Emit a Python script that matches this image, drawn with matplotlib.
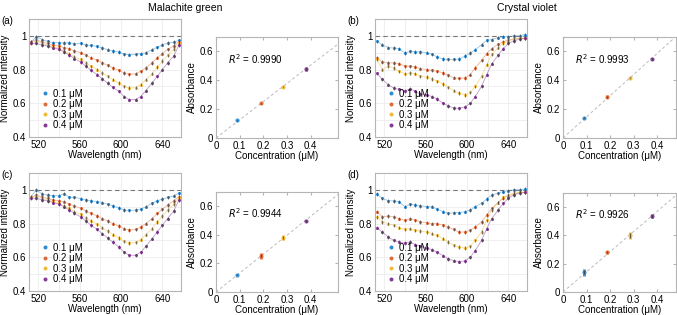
import numpy as np
import matplotlib
matplotlib.use("Agg")
import matplotlib.pyplot as plt
from matplotlib.ticker import MultipleLocator

plt.rcParams["font.family"] = ["Liberation Sans", "DejaVu Sans"]
plt.rcParams["font.size"] = 7

colors = ["#2f8bd0", "#de6b3a", "#efba3a", "#853a95"]
labels = ["0.1 μM", "0.2 μM", "0.3 μM", "0.4 μM"]

wl = [513, 518, 524, 529, 534, 540, 545, 550, 555, 561, 566, 571, 577, 582,
      587, 592, 598, 603, 608, 614, 619, 624, 630, 635, 640, 645, 651, 656]

# malachite green, top row (a)
mg_a = [
    [0.963, 0.996, 0.977, 0.967, 0.96, 0.96, 0.957, 0.96, 0.953, 0.955, 0.945, 0.943, 0.937, 0.928,
     0.918, 0.91, 0.904, 0.89, 0.888, 0.89, 0.894, 0.9, 0.918, 0.932, 0.947, 0.957, 0.963, 0.973],
    [0.965, 0.978, 0.962, 0.955, 0.945, 0.94, 0.93, 0.925, 0.91, 0.9, 0.885, 0.87, 0.855, 0.84,
     0.825, 0.81, 0.795, 0.78, 0.772, 0.775, 0.79, 0.81, 0.84, 0.87, 0.895, 0.92, 0.94, 0.965],
    [0.96, 0.97, 0.955, 0.945, 0.935, 0.925, 0.91, 0.895, 0.875, 0.86, 0.84, 0.82, 0.8, 0.78,
     0.76, 0.74, 0.72, 0.70, 0.69, 0.693, 0.71, 0.74, 0.775, 0.815, 0.85, 0.885, 0.92, 0.955],
    [0.955, 0.955, 0.945, 0.94, 0.93, 0.92, 0.905, 0.885, 0.865, 0.845, 0.82, 0.795, 0.77, 0.745,
     0.72, 0.695, 0.67, 0.64, 0.622, 0.622, 0.64, 0.675, 0.72, 0.76, 0.8, 0.84, 0.88, 0.945],
]
# malachite green, bottom row (c)
mg_c = [
    [0.96, 1.0, 0.975, 0.97, 0.965, 0.965, 0.978, 0.955, 0.955, 0.948, 0.94, 0.935, 0.93, 0.925,
     0.915, 0.905, 0.893, 0.88, 0.878, 0.88, 0.885, 0.9, 0.92, 0.935, 0.945, 0.955, 0.965, 0.98],
    [0.955, 0.97, 0.955, 0.95, 0.94, 0.935, 0.93, 0.915, 0.905, 0.89, 0.875, 0.86, 0.845, 0.83,
     0.815, 0.8, 0.785, 0.77, 0.762, 0.765, 0.78, 0.8, 0.83, 0.86, 0.885, 0.91, 0.935, 0.96],
    [0.955, 0.965, 0.95, 0.94, 0.93, 0.92, 0.905, 0.89, 0.87, 0.855, 0.835, 0.815, 0.795, 0.775,
     0.755, 0.735, 0.715, 0.695, 0.685, 0.688, 0.705, 0.735, 0.77, 0.81, 0.845, 0.88, 0.915, 0.95],
    [0.95, 0.95, 0.94, 0.935, 0.925, 0.915, 0.9, 0.88, 0.86, 0.84, 0.815, 0.79, 0.765, 0.74,
     0.715, 0.69, 0.66, 0.63, 0.612, 0.612, 0.63, 0.665, 0.71, 0.75, 0.79, 0.83, 0.875, 0.94],
]
# crystal violet, top row (b)
cv_b = [
    [0.967, 0.947, 0.93, 0.928, 0.925, 0.898, 0.908, 0.905, 0.905, 0.9, 0.89, 0.875, 0.862, 0.86,
     0.86, 0.862, 0.88, 0.898, 0.918, 0.947, 0.973, 0.978, 0.99, 0.995, 0.995, 1.0, 1.0, 1.008],
    [0.87, 0.845, 0.84, 0.84, 0.835, 0.82, 0.82, 0.815, 0.805, 0.8, 0.795, 0.79, 0.78, 0.765,
     0.752, 0.748, 0.75, 0.77, 0.81, 0.855, 0.895, 0.925, 0.95, 0.965, 0.975, 0.98, 0.985, 0.985],
    [0.86, 0.80, 0.82, 0.81, 0.79, 0.775, 0.78, 0.775, 0.76, 0.755, 0.745, 0.73, 0.715, 0.695,
     0.675, 0.66, 0.65, 0.665, 0.7, 0.76, 0.83, 0.89, 0.93, 0.955, 0.97, 0.98, 0.985, 0.985],
    [0.777, 0.742, 0.71, 0.69, 0.683, 0.673, 0.686, 0.67, 0.655, 0.65, 0.64, 0.625, 0.6, 0.585,
     0.572, 0.57, 0.578, 0.6, 0.64, 0.7, 0.77, 0.835, 0.885, 0.925, 0.955, 0.97, 0.98, 0.985],
]
# crystal violet, bottom row (d)
cv_d = [
    [0.975, 0.95, 0.935, 0.935, 0.93, 0.9, 0.915, 0.91, 0.905, 0.9, 0.9, 0.885, 0.87, 0.86,
     0.865, 0.865, 0.87, 0.88, 0.9, 0.92, 0.945, 0.97, 0.98, 0.99, 0.995, 1.0, 1.0, 1.005],
    [0.87, 0.84, 0.845, 0.84, 0.83, 0.82, 0.83, 0.82, 0.81, 0.805, 0.8, 0.8, 0.79, 0.78,
     0.765, 0.75, 0.75, 0.76, 0.78, 0.81, 0.85, 0.89, 0.925, 0.95, 0.965, 0.975, 0.985, 0.985],
    [0.84, 0.81, 0.8, 0.79, 0.775, 0.765, 0.77, 0.76, 0.755, 0.75, 0.74, 0.73, 0.71, 0.69,
     0.67, 0.66, 0.655, 0.665, 0.7, 0.75, 0.82, 0.88, 0.925, 0.955, 0.97, 0.98, 0.985, 0.985],
    [0.775, 0.75, 0.72, 0.7, 0.69, 0.685, 0.69, 0.675, 0.665, 0.655, 0.645, 0.63, 0.61, 0.59,
     0.58, 0.575, 0.578, 0.6, 0.64, 0.7, 0.77, 0.83, 0.88, 0.92, 0.95, 0.97, 0.98, 0.985],
]
spec_err = 0.01

conc = [0.09, 0.188, 0.283, 0.38]
abs_a = [0.122, 0.241, 0.356, 0.478]
abs_b = [0.14, 0.285, 0.418, 0.548]
abs_c = [0.122, 0.254, 0.381, 0.497]
abs_d = [0.14, 0.28, 0.40, 0.535]
err_a = [0.006, 0.008, 0.006, 0.012]
err_b = [0.006, 0.01, 0.006, 0.008]
err_c = [0.006, 0.02, 0.015, 0.008]
err_d = [0.025, 0.012, 0.025, 0.015]
r2 = ["0.9990", "0.9993", "0.9944", "0.9926"]

W, H = 677, 315
fig = plt.figure(figsize=(W / 100, H / 100), dpi=100)


def box(l, t, r, b):
    return [l / W, 1 - b / H, (r - l) / W, (b - t) / H]


spine_col = "#b5b5b5"


def spectrum(rect, data, tag):
    ax = fig.add_axes(rect)
    for i in range(4):
        ax.plot(wl, data[i], color=colors[i], lw=0.6, alpha=0.5, zorder=2)
        ax.plot(wl, data[i], "o", ms=2.2, color=colors[i], mec="none",
                label=labels[i], zorder=3)
        ax.errorbar(wl, data[i], yerr=spec_err, fmt="none", ecolor="#444444",
                    elinewidth=0.6, alpha=0.8, zorder=4)
    ax.axhline(1, color="#777777", lw=0.8, ls=(0, (4, 3)), zorder=1)
    ax.set_xlim(511, 658)
    ax.set_ylim(0.4, 1.1)
    ax.set_xticks([520, 560, 600, 640])
    ax.set_yticks([0.4, 0.6, 0.8, 1.0])
    ax.set_yticklabels(["0.4", "0.6", "0.8", "1"])
    ax.xaxis.set_minor_locator(MultipleLocator(20))
    ax.yaxis.set_minor_locator(MultipleLocator(0.1))
    ax.grid(True, which="both", color="#ececec", lw=0.6, zorder=0)
    ax.set_axisbelow(True)
    ax.tick_params(which="both", length=0, pad=2)
    for s in ax.spines.values():
        s.set_color(spine_col)
        s.set_linewidth(0.8)
    ax.set_xlabel("Wavelength (nm)", labelpad=0)
    ax.set_ylabel("Normalized intensity", labelpad=2)
    ax.legend(loc="lower left", frameon=False, handlelength=0.6, handletextpad=0.5,
              labelspacing=0.05, borderaxespad=0.3, bbox_to_anchor=(0.04, 0.0),
              markerscale=1.3)
    ax.text(-0.18, 0.985, tag, transform=ax.transAxes, fontsize=7, va="center")
    return ax


def calib(rect, y, yerr, r2txt, xmax):
    ax = fig.add_axes(rect)
    slope = np.sum(np.array(conc) * np.array(y)) / np.sum(np.array(conc) ** 2)
    ax.plot([0, xmax], [0, slope * xmax], color="#bbbbbb", lw=0.7, ls=(0, (3, 2.5)),
            zorder=1)
    for i in range(4):
        ax.errorbar(conc[i], y[i], yerr=yerr[i], fmt="o", ms=3, color=colors[i],
                    mec="none", ecolor=colors[i], elinewidth=2.2, capsize=0, alpha=0.9,
                    zorder=2)
        ax.errorbar(conc[i], y[i], yerr=yerr[i] * 0.6, fmt="none", ecolor="#333333",
                    elinewidth=0.5, zorder=3)
    ax.set_xlim(0, xmax)
    ax.set_ylim(0, 0.7)
    ax.set_xticks([0, 0.1, 0.2, 0.3, 0.4])
    ax.set_xticklabels(["0", "0.1", "0.2", "0.3", "0.4"])
    ax.set_yticks([0, 0.2, 0.4, 0.6])
    ax.set_yticklabels(["0", "0.2", "0.4", "0.6"])
    ax.tick_params(direction="in", length=2, color=spine_col, top=True, right=True, pad=2)
    for s in ax.spines.values():
        s.set_color(spine_col)
        s.set_linewidth(0.8)
    ax.set_xlabel("Concentration (μM)", labelpad=0)
    ax.set_ylabel("Absorbance", labelpad=2)
    ax.text(0.05, 0.55, "$R^2$ = " + r2txt, fontsize=7, va="center")
    return ax


spectrum(box(29, 19, 181, 137), mg_a, "(a)")
spectrum(box(375, 19, 527, 137), cv_b, "(b)")
spectrum(box(29, 173, 181, 291), mg_c, "(c)")
spectrum(box(375, 173, 527, 291), cv_d, "(d)")

calib(box(216, 37, 338, 138), abs_a, err_a, r2[0], 0.515)
calib(box(563, 37, 676, 138), abs_b, err_b, r2[1], 0.48)
calib(box(216, 192, 338, 292), abs_c, err_c, r2[2], 0.515)
calib(box(563, 193, 676, 292), abs_d, err_d, r2[3], 0.48)

fig.text(185 / W, 1 - 8 / H, "Malachite green", ha="center", va="center", fontsize=7.5)
fig.text(527 / W, 1 - 8 / H, "Crystal violet", ha="center", va="center", fontsize=7.5)

fig.savefig("out.png", dpi=100)
